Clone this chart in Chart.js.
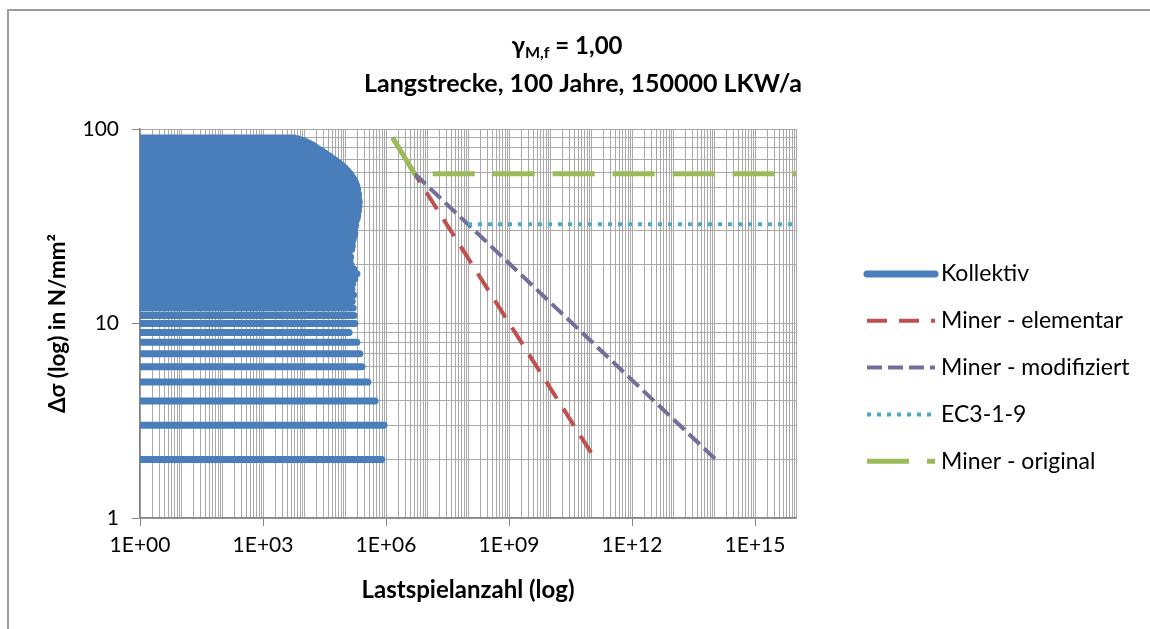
<!DOCTYPE html>
<html lang="de">
<head>
<meta charset="utf-8">
<title>Wöhlerlinien – Langstrecke</title>
<script src="https://cdn.jsdelivr.net/npm/chart.js@4.4.1/dist/chart.umd.min.js"></script>
<style>
  html, body { margin: 0; padding: 0; background: #fff; }
  #wrap   { position: relative; width: 1150px; height: 629px; overflow: hidden; }
  #rahmen { position: absolute; left: 7px; top: 9px; width: 1300px; height: 800px;
            border-left: 2px solid #9c9c9c; border-top: 2px solid #9c9c9c; pointer-events: none; }
  canvas  { position: absolute; left: 0; top: 0; }
</style>
</head>
<body>
<div id="wrap">
  <canvas id="chart" width="1150" height="629"></canvas>
  <div id="rahmen"></div>
</div>
<script>
/* ── Kollektiv: Spannungsstufen [N/mm²] und Lastspielzahlen ── */
const kollektivSpannung = [
   2,  3,  4,  5,  6,  7,  8,  9, 10,
  11, 12, 13, 14, 15, 16, 17, 18, 19, 20,
  21, 22, 23, 24, 25, 26, 27, 28, 29, 30,
  31, 32, 33, 34, 35, 36, 37, 38, 39, 40,
  41, 42, 43, 44, 45, 46, 47, 48, 49, 50,
  51, 52, 53, 54, 55, 56, 57, 58, 59, 60,
  61, 62, 63, 64, 65, 66, 67, 68, 69, 70,
  71, 72, 73, 74, 75, 76, 77, 78, 79, 80,
  81, 82, 83, 84, 85, 86, 87, 88, 89, 90
];
const kollektivLastspiele = [
  7.9e5, 8.9e5, 5.4e5, 3.6e5, 2.6e5, 2.3e5, 1.95e5, 1.26e5, 1.74e5,
  1.66e5, 1.58e5, 1.51e5, 1.62e5, 1.48e5, 1.55e5, 1.74e5, 1.95e5, 1.66e5, 1.41e5,
  1.32e5, 1.38e5, 1.26e5, 1.45e5, 1.51e5, 1.48e5, 1.58e5, 1.66e5, 1.74e5, 1.70e5,
  1.74e5, 1.82e5, 1.78e5, 1.90e5, 2.00e5, 2.04e5, 1.95e5, 2.14e5, 2.09e5, 2.19e5,
  2.14e5, 2.24e5, 2.19e5, 2.14e5, 2.09e5, 2.14e5, 2.04e5, 2.00e5, 2.04e5, 1.95e5,
  1.95e5, 1.86e5, 1.82e5, 1.74e5, 1.66e5, 1.58e5, 1.48e5, 1.41e5, 1.32e5, 1.23e5,
  1.15e5, 1.07e5, 1.00e5, 9.1e4, 8.5e4, 7.6e4, 6.9e4, 6.3e4, 5.8e4, 5.2e4,
  4.8e4, 4.4e4, 4.0e4, 3.6e4, 3.3e4, 3.0e4, 2.75e4, 2.5e4, 2.24e4, 2.04e4,
  1.86e4, 1.74e4, 1.58e4, 1.41e4, 1.26e4, 1.12e4, 1.0e4, 8.2e3, 7.0e3, 5.8e3
];

/* ── Wöhlerlinien (Lastspiele / Spannung) ── */
const elementarN    = [1.46e6, 5e6, 1.28e11];
const elementarS    = [90, 58.9, 2];
const modifiziertN  = [1.46e6, 5e6, 1.1e14];
const modifiziertS  = [90, 58.9, 2];
const ec3N          = [1e8, 1e16];
const ec3S          = [32.4, 32.4];
const originalN     = [1.46e6, 5e6, 1e16];
const originalS     = [90, 58.9, 58.9];

/* ── Achsen ── */
const xTickWerte  = [1, 1e3, 1e6, 1e9, 1e12, 1e15];
const xTickLabels = ["1E+00", "1E+03", "1E+06", "1E+09", "1E+12", "1E+15"];
const yTickWerte  = [1, 10, 100];
const yTickLabels = ["1", "10", "100"];

const SCHRIFT = "Lato";
const GITTER  = "#a9a9a9";
const ACHSE   = "#868686";

/* ── Helfer ── */
function punkte(xs, ys) {
  return xs.map((x, i) => ({ x, y: ys[i] }));
}

// Jede Stufe eine waagrechte Linie von N = 1 bis N_i, getrennt durch Lücken
const kollektivPunkte = [];
kollektivSpannung.forEach((s, i) => {
  kollektivPunkte.push({ x: 1, y: s });
  kollektivPunkte.push({ x: kollektivLastspiele[i], y: s });
  kollektivPunkte.push({ x: kollektivLastspiele[i], y: null });
});

// Log-Gitter: 1..9 je Dekade
function logTicks(minExp, maxExp) {
  const t = [];
  for (let e = minExp; e < maxExp; e++) {
    for (let m = 1; m <= 9; m++) t.push({ value: m * Math.pow(10, e) });
  }
  t.push({ value: Math.pow(10, maxExp) });
  return t;
}

/* ── Titel (mit Index) ── */
const titelPlugin = {
  id: "titel",
  afterDraw(chart) {
    const c = chart.ctx;
    c.save();
    c.fillStyle = "#000";
    c.textBaseline = "alphabetic";
    // Zeile 1: γ_M,f = 1,00
    const fGross = "bold 24px " + SCHRIFT;
    const fKlein = "bold 16px " + SCHRIFT;
    c.font = fGross; const w1 = c.measureText("γ").width;
    const w3 = c.measureText(" = 1,00").width;
    c.font = fKlein; const w2 = c.measureText("M,f").width;
    let x = 567 - (w1 + w2 + w3) / 2;
    c.font = fGross; c.fillText("γ", x, 54); x += w1;
    c.font = fKlein; c.fillText("M,f", x, 58); x += w2;
    c.font = fGross; c.fillText(" = 1,00", x, 54);
    // Zeile 2
    c.font = "bold 25px " + SCHRIFT;
    c.textAlign = "center";
    c.fillText("Langstrecke, 100 Jahre, 150000 LKW/a", 583, 92);
    c.restore();
  }
};

/* ── Legende ── */
const legendePlugin = {
  id: "legende",
  afterDraw(chart) {
    const c = chart.ctx;
    chart.data.datasets.forEach((ds, i) => {
      const y = 274 + i * 46.8;
      c.save();
      c.strokeStyle = ds.borderColor;
      c.lineWidth = ds.borderWidth;
      c.lineCap = ds.borderCapStyle || "butt";
      c.setLineDash(ds.borderDash || []);
      c.beginPath();
      c.moveTo(867, y);
      c.lineTo(935, y);
      c.stroke();
      c.setLineDash([]);
      c.fillStyle = "#000";
      c.font = "23px " + SCHRIFT;
      c.textBaseline = "middle";
      c.fillText(ds.label, 941, y);
      c.restore();
    });
  }
};

/* ── Diagramm ── */
new Chart(document.getElementById("chart"), {
  type: "line",
  data: {
    datasets: [
      {
        label: "Kollektiv",
        data: kollektivPunkte,
        borderColor: "#4a7ebb",
        borderWidth: 7,
        borderCapStyle: "round",
        spanGaps: false,
        order: 5,
      },
      {
        label: "Miner - elementar",
        data: punkte(elementarN, elementarS),
        borderColor: "#c0504d",
        borderWidth: 4,
        borderDash: [20, 12],
        order: 4,
      },
      {
        label: "Miner - modifiziert",
        data: punkte(modifiziertN, modifiziertS),
        borderColor: "#72709a",
        borderWidth: 4,
        borderDash: [15, 6],
        order: 3,
      },
      {
        label: "EC3-1-9",
        data: punkte(ec3N, ec3S),
        borderColor: "#4bacc6",
        borderWidth: 4,
        borderDash: [4, 6],
        order: 2,
      },
      {
        label: "Miner - original",
        data: punkte(originalN, originalS),
        borderColor: "#9bbb59",
        borderWidth: 5,
        borderDash: [42, 18],
        order: 1,
      },
    ],
  },
  options: {
    responsive: false,
    animation: false,
    devicePixelRatio: 1,
    elements: { point: { radius: 0 }, line: { tension: 0 } },
    layout: { padding: { left: 44, right: 354, top: 129, bottom: 24 } },
    plugins: {
      legend:  { display: false },
      title:   { display: false },
      tooltip: { enabled: false },
    },
    scales: {
      x: {
        type: "logarithmic",
        min: 1, max: 1e16,
        afterBuildTicks: (s) => { s.ticks = logTicks(0, 16); },
        afterFit: (s) => { s.height = 87; },
        ticks: {
          autoSkip: false, maxRotation: 0, padding: 7,
          color: "#000", font: { family: SCHRIFT, size: 21 },
          callback: (v) => { const i = xTickWerte.indexOf(v); return i >= 0 ? xTickLabels[i] : ""; },
        },
        grid: {
          color: GITTER, lineWidth: 1, tickLength: 8,
          tickColor: (ctx) => xTickWerte.includes(ctx.tick && ctx.tick.value) ? ACHSE : "rgba(0,0,0,0)",
        },
        border: { color: ACHSE, width: 1.5 },
        title: {
          display: true, text: "Lastspielanzahl (log)", color: "#000",
          font: { family: SCHRIFT, size: 24, weight: "bold" }, padding: 0,
        },
      },
      y: {
        type: "logarithmic",
        min: 1, max: 100,
        afterBuildTicks: (s) => { s.ticks = logTicks(0, 2); },
        afterFit: (s) => { s.width = 96; },
        ticks: {
          autoSkip: false, padding: 13,
          color: "#000", font: { family: SCHRIFT, size: 21 },
          callback: (v) => { const i = yTickWerte.indexOf(v); return i >= 0 ? yTickLabels[i] : ""; },
        },
        grid: {
          color: GITTER, lineWidth: 1, tickLength: 8,
          tickColor: (ctx) => yTickWerte.includes(ctx.tick && ctx.tick.value) ? ACHSE : "rgba(0,0,0,0)",
        },
        border: { color: ACHSE, width: 1.5 },
        title: {
          display: true, text: "Δσ (log) in N/mm²", color: "#000",
          font: { family: SCHRIFT, size: 22.5, weight: "bold" }, padding: 0,
        },
      },
    },
  },
  plugins: [titelPlugin, legendePlugin],
});
</script>
</body>
</html>
